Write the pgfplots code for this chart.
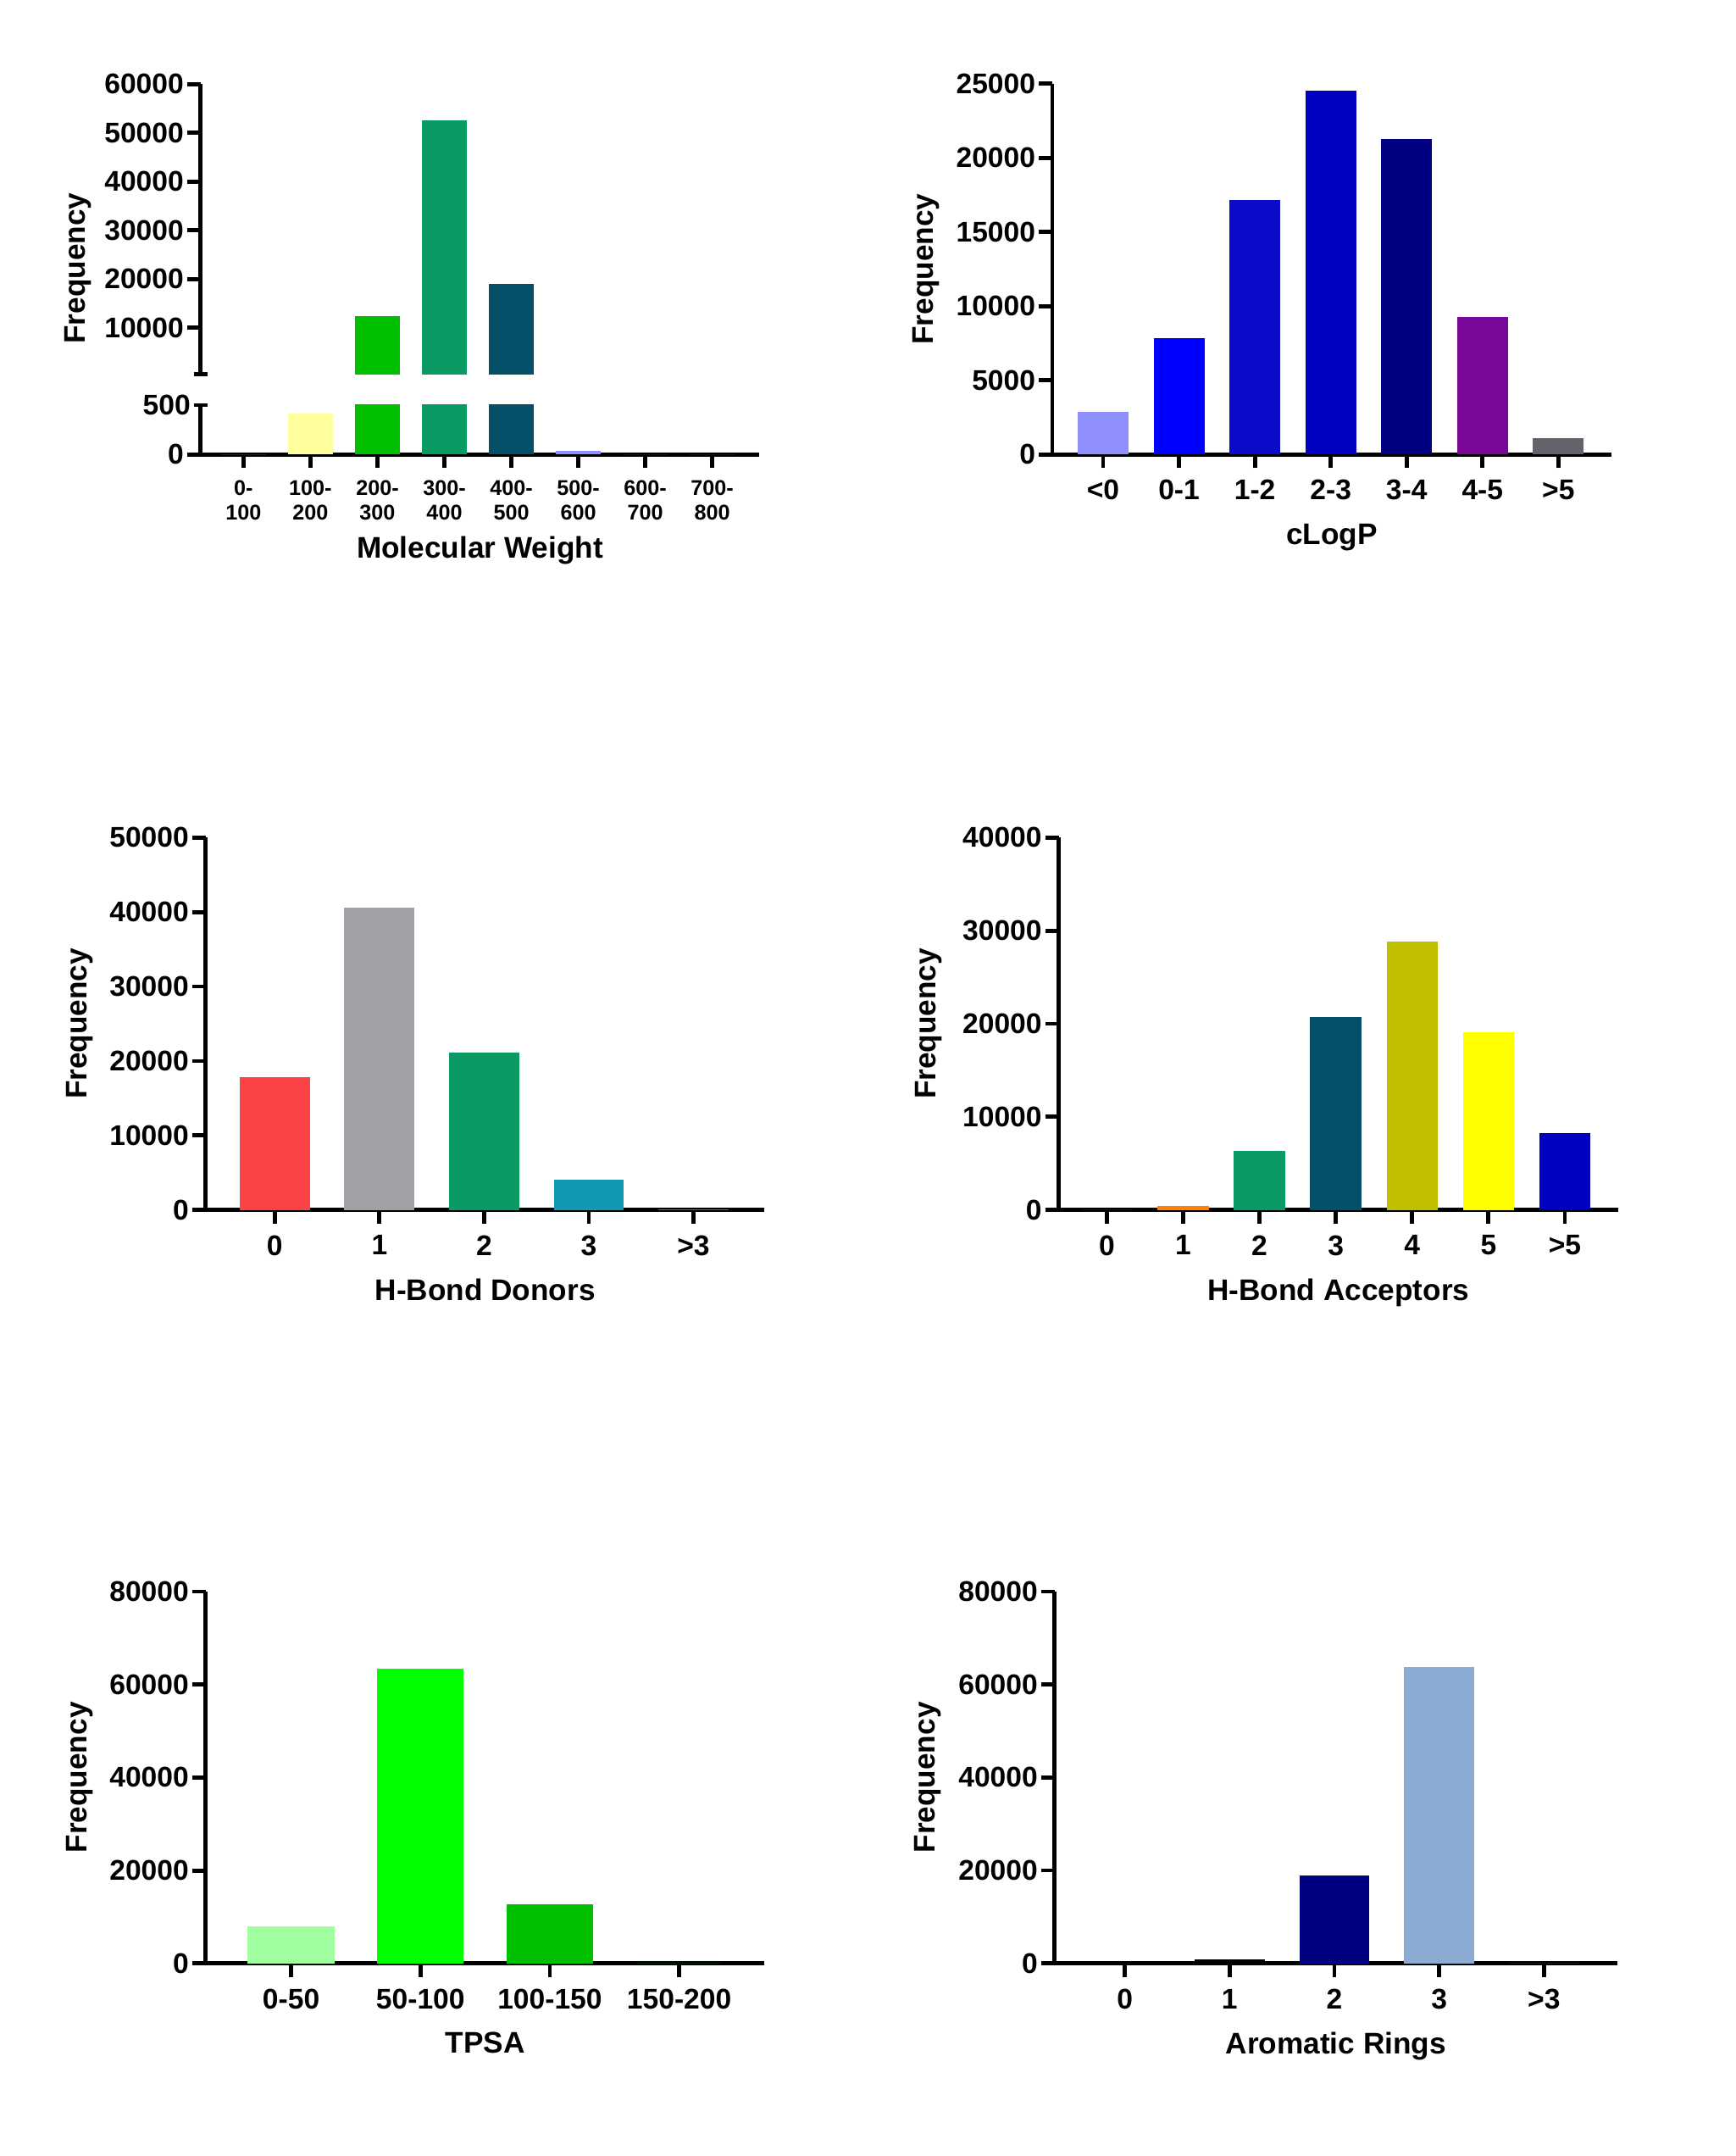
\documentclass[border=0pt]{standalone}
\usepackage{fontspec}
\setmainfont{Liberation Sans}
\usepackage{pgfplots}
\pgfplotsset{compat=1.18}

% bar colours
\definecolor{paleyel}{HTML}{FFFF9E}
\definecolor{grn}{HTML}{00C000}
\definecolor{seagrn}{HTML}{0C9A64}
\definecolor{dteal}{HTML}{045068}
\definecolor{lilac}{HTML}{8F8FFF}
\definecolor{blu1}{HTML}{0000FF}
\definecolor{blu2}{HTML}{0A0AC8}
\definecolor{blu3}{HTML}{0000C0}
\definecolor{navy}{HTML}{000080}
\definecolor{purp}{HTML}{790898}
\definecolor{gry}{HTML}{636369}
\definecolor{redd}{HTML}{FB4244}
\definecolor{lgry}{HTML}{A0A0A5}
\definecolor{cyanb}{HTML}{1098B4}
\definecolor{orng}{HTML}{FF8000}
\definecolor{olive}{HTML}{C0C000}
\definecolor{yell}{HTML}{FFFF00}
\definecolor{lgrn}{HTML}{A0FFA0}
\definecolor{lime}{HTML}{00FF00}
\definecolor{steel}{HTML}{8CABD3}

\pgfplotsset{
  hist/.style={
    scale only axis, ybar, bar shift=0pt, bar width=0.67,
    axis x line=bottom, axis y line=left,
    axis line style={-, line width=1.2pt},
    every tick/.style={black, line width=1.2pt},
    major tick length=4pt, tick align=outside,
    enlargelimits=false, ymin=0, scaled y ticks=false,
    tick label style={font=\bfseries\fontsize{8.4}{9.6}\selectfont},
    yticklabel style={inner xsep=0.8pt},
    label style={font=\bfseries\fontsize{8.8}{10}\selectfont},
    ylabel style={at={(axis description cs:-0.225,0.5)}, anchor=center},
    /pgf/number format/1000 sep={},
    /pgf/number format/assume math mode=true,
    every axis plot/.append style={draw=none},
  },
}

\begin{document}
\begin{tikzpicture}
\useasboundingbox (0,0) rectangle (512pt,636pt);

% ---- Molecular weight, broken y axis: lower part 0-500
\begin{axis}[hist, at={(59.2pt,501.9pt)}, anchor=south west,
  width=164.8pt, height=14.6pt, xmin=-0.64, xmax=7.7, ymax=500,
  ytick={0}, extra y ticks={500}, extra y tick style={tick align=center},
  xtick={0,...,7},
  xticklabels={{0-\\100},{100-\\200},{200-\\300},{300-\\400},{400-\\500},{500-\\600},{600-\\700},{700-\\800}},
  xticklabel style={align=center, font=\bfseries\fontsize{6.3}{7.3}\selectfont},
  xlabel={Molecular Weight}, xlabel style={yshift=2pt}]
\addplot[fill=paleyel] coordinates {(0,0)};
\addplot[fill=paleyel] coordinates {(1,414)};
\addplot[fill=grn] coordinates {(2,12500)};
\addplot[fill=seagrn] coordinates {(3,52600)};
\addplot[fill=dteal] coordinates {(4,19100)};
\addplot[fill=lilac] coordinates {(5,41)};
\addplot[fill=lilac] coordinates {(6,0)};
\addplot[fill=lilac] coordinates {(7,0)};
\end{axis}
% upper part 500-60000
\begin{axis}[hist, at={(59.2pt,525.6pt)}, anchor=south west,
  width=164.8pt, height=85.6pt, xmin=-0.64, xmax=7.7, ymin=500, ymax=60000,
  axis x line=none, xtick=\empty,
  ytick={10000,20000,...,60000},
  extra y ticks={500}, extra y tick labels={}, extra y tick style={tick align=center},
  ylabel={Frequency}, ylabel style={at={(axis description cs:-0.22,0.365)}}]
\addplot[fill=grn] coordinates {(2,12500)};
\addplot[fill=seagrn] coordinates {(3,52600)};
\addplot[fill=dteal] coordinates {(4,19100)};
\end{axis}

% ---- cLogP
\begin{axis}[hist, at={(310.5pt,501.9pt)}, anchor=south west,
  width=165pt, height=109.4pt, xmin=-0.67, xmax=6.7, ymax=25000,
  ytick={0,5000,...,25000},
  xtick={0,...,6}, xticklabels={<0,0-1,1-2,2-3,3-4,4-5,>5},
  xlabel={cLogP}, ylabel={Frequency}]
\addplot[fill=lilac] coordinates {(0,2870)};
\addplot[fill=blu1] coordinates {(1,7830)};
\addplot[fill=blu2] coordinates {(2,17170)};
\addplot[fill=blu3] coordinates {(3,24520)};
\addplot[fill=navy] coordinates {(4,21280)};
\addplot[fill=purp] coordinates {(5,9290)};
\addplot[fill=gry] coordinates {(6,1090)};
\end{axis}

% ---- H-bond donors
\begin{axis}[hist, at={(60.7pt,279.1pt)}, anchor=south west,
  width=164.9pt, height=109.8pt, xmin=-0.66, xmax=4.68, ymax=50000,
  ytick={0,10000,...,50000},
  xtick={0,...,4}, xticklabels={0,1,2,3,>3},
  xlabel={H-Bond Donors}, ylabel={Frequency}]
\addplot[fill=redd] coordinates {(0,17800)};
\addplot[fill=lgry] coordinates {(1,40640)};
\addplot[fill=seagrn] coordinates {(2,21120)};
\addplot[fill=cyanb] coordinates {(3,4010)};
\addplot[fill=seagrn] coordinates {(4,80)};
\end{axis}

% ---- H-bond acceptors
\begin{axis}[hist, at={(312.4pt,279.1pt)}, anchor=south west,
  width=165.1pt, height=109.8pt, xmin=-0.63, xmax=6.7, ymax=40000,
  ytick={0,10000,...,40000},
  xtick={0,...,6}, xticklabels={0,1,2,3,4,5,>5},
  xlabel={H-Bond Acceptors}, ylabel={Frequency},
  ylabel style={at={(axis description cs:-0.232,0.5)}}]
\addplot[fill=orng] coordinates {(0,0)};
\addplot[fill=orng] coordinates {(1,450)};
\addplot[fill=seagrn] coordinates {(2,6310)};
\addplot[fill=dteal] coordinates {(3,20730)};
\addplot[fill=olive] coordinates {(4,28820)};
\addplot[fill=yell] coordinates {(5,19060)};
\addplot[fill=blu3] coordinates {(6,8290)};
\end{axis}

% ---- TPSA
\begin{axis}[hist, at={(60.7pt,56.8pt)}, anchor=south west,
  width=164.9pt, height=109.7pt, xmin=-0.66, xmax=3.66, ymax=80000,
  ytick={0,20000,...,80000},
  xtick={0,...,3}, xticklabels={0-50,50-100,100-150,150-200},
  xlabel={TPSA}, ylabel={Frequency}]
\addplot[fill=lgrn] coordinates {(0,7990)};
\addplot[fill=lime] coordinates {(1,63330)};
\addplot[fill=grn] coordinates {(2,12780)};
\addplot[fill=grn] coordinates {(3,0)};
\end{axis}

% ---- Aromatic rings
\begin{axis}[hist, at={(311.2pt,56.8pt)}, anchor=south west,
  width=166pt, height=109.7pt, xmin=-0.67, xmax=4.7, ymax=80000,
  ytick={0,20000,...,80000},
  xtick={0,...,4}, xticklabels={0,1,2,3,>3},
  xlabel={Aromatic Rings}, ylabel={Frequency}]
\addplot[fill=black] coordinates {(0,0)};
\addplot[fill=black] coordinates {(1,900)};
\addplot[fill=navy] coordinates {(2,18890)};
\addplot[fill=steel] coordinates {(3,63820)};
\addplot[fill=steel] coordinates {(4,0)};
\end{axis}
\end{tikzpicture}
\end{document}
